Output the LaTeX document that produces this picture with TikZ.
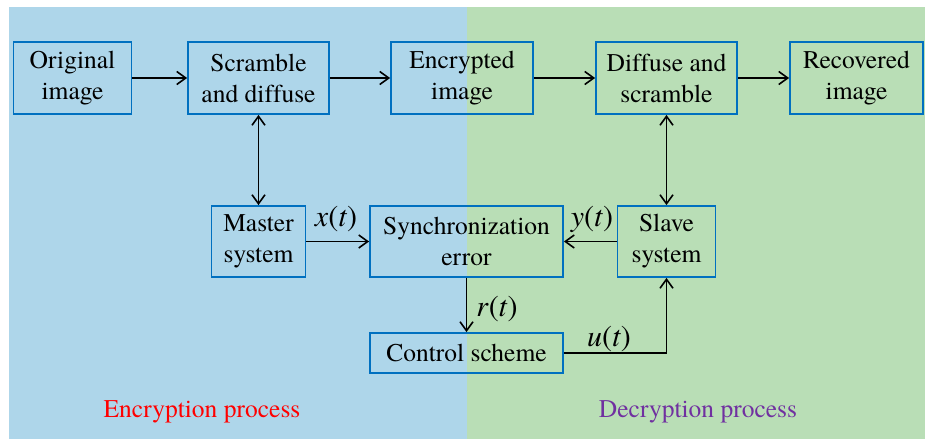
\documentclass[tikz,border=0pt]{standalone}
\usepackage{fontspec}
\setmainfont{texgyretermes}[Extension=.otf, UprightFont=*-regular, ItalicFont=*-italic, BoldFont=*-bold, Ligatures=CommonOff]
\usetikzlibrary{arrows.meta}
\definecolor{bgblue}{RGB}{174,214,234}
\definecolor{bggreen}{RGB}{185,222,182}
\definecolor{boxblue}{RGB}{0,112,192}
\definecolor{encred}{RGB}{255,0,0}
\definecolor{decpurple}{RGB}{112,48,160}
\tikzset{
  blk/.style={draw=boxblue, line width=1.8pt, inner sep=0pt, align=center,
    font=\fontsize{25.5}{31}\selectfont},
  twoline/.style={blk, execute at begin node={\rule{0pt}{24pt}}},
  tip/.tip={Straight Barb[length=9pt,width=13pt,line width=1.6pt]},
  conn/.style={line width=1.8pt, -tip},
  dconn/.style={line width=1.8pt, tip-tip},
  lbl/.style={inner sep=0pt, font=\fontsize{30}{32}\selectfont},
  proclabel/.style={inner sep=0pt, font=\fontsize{25.5}{30}\selectfont}
}
\begin{document}
\begin{tikzpicture}[x=1pt,y=-1pt]
\useasboundingbox (0,0) rectangle (925,439);
\fill[bgblue] (9,7) rectangle (467,439);
\fill[bggreen] (467,7) rectangle (925,439);
% top row
\node[twoline, minimum width=118pt, minimum height=72pt] (orig) at (72.5,78) {Original\\image};
\node[twoline, minimum width=141pt, minimum height=72pt] (scr) at (258.5,78) {Scramble\\and diffuse};
\node[twoline, minimum width=142pt, minimum height=72pt] (enc) at (462,78) {Encrypted\\image};
\node[twoline, minimum width=141pt, minimum height=72pt] (dif) at (666.5,78) {Diffuse and\\scramble};
\node[twoline, minimum width=133pt, minimum height=72pt] (rec) at (856.5,78) {Recovered\\image};
% middle
\node[twoline, minimum width=94pt, minimum height=71pt] (mas) at (258.5,241.5) {Master\\system};
\node[twoline, minimum width=193pt, minimum height=71pt] (syn) at (466.5,241.5) {Synchronization\\error};
\node[twoline, minimum width=98pt, minimum height=71pt] (sla) at (666.5,241.5) {Slave\\system};
\node[blk, minimum width=193pt, minimum height=40pt] (con) at (466.5,353) {Control scheme};
% connectors
\draw[conn] (orig) -- (scr);
\draw[conn] (scr) -- (enc);
\draw[conn] (enc) -- (dif);
\draw[conn] (dif) -- (rec);
\draw[dconn] (scr) -- (mas);
\draw[dconn] (dif) -- (sla);
\draw[conn] (mas) -- (syn);
\draw[conn] (sla) -- (syn);
\draw[conn] (syn) -- (con);
\draw[conn] (con.east) -| (sla.south);
% labels
\node[lbl] (xt) at (336,219) {\textit{x}(\textit{t})};
\node[lbl] (yt) at (592,219) {\textit{y}(\textit{t})};
\node[lbl] (rt) at (497,309) {\textit{r}(\textit{t})};
\node[lbl] (ut) at (609,339) {\textit{u}(\textit{t})};
\node[proclabel, text=encred] (encp) at (202,412) {Encryption process};
\node[proclabel, text=decpurple] (decp) at (698,412) {Decryption process};
\end{tikzpicture}
\end{document}
